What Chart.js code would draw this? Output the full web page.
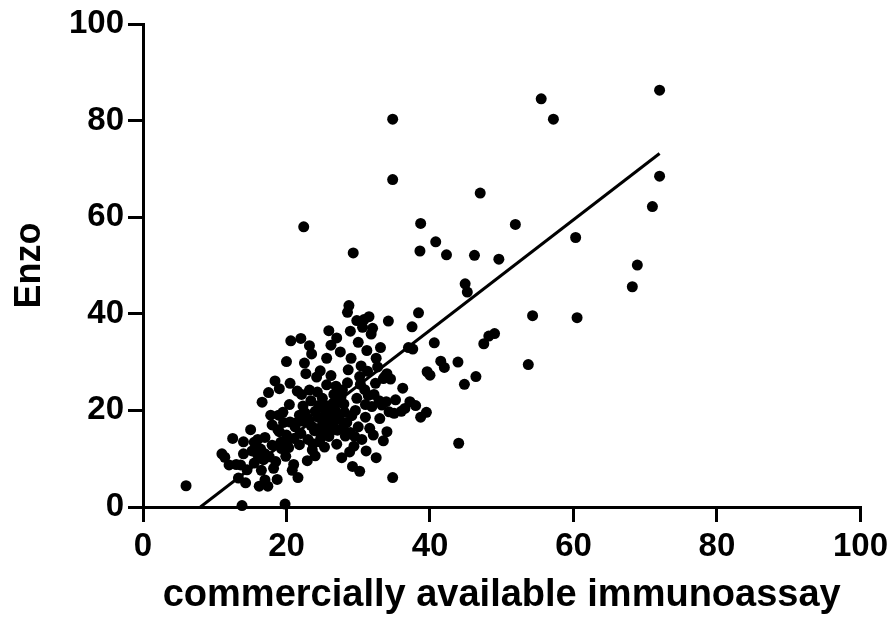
<!DOCTYPE html>
<html>
<head>
<meta charset="utf-8">
<script src="https://cdn.jsdelivr.net/npm/chart.js@4.4.1/dist/chart.umd.min.js"></script>
<style>
  html, body { margin: 0; padding: 0; background: #fff; }
  #wrap { width: 896px; height: 619px; }
</style>
</head>
<body>
<div id="wrap"><canvas id="myChart" width="896" height="619"></canvas></div>
<script>
// commercially available immunoassay (x) vs Enzo (y)
const commercialX = [
  55.5, 57.2, 72.0, 34.8, 34.8, 22.4, 29.3, 47.0, 38.7, 38.6, 40.8, 42.3, 46.2, 49.6, 51.9,
  71.0, 72.0, 60.3, 68.9, 68.2, 60.5, 54.3, 53.7, 44.9, 45.2, 48.2, 49.0, 47.5, 46.4, 44.8,
  44.0, 43.9, 40.6, 39.6, 40.0, 41.5, 42.0, 38.4, 37.6, 37.5, 38.7, 39.5, 38.0, 37.2, 36.0,
  35.2, 36.2, 34.8, 34.0, 34.2, 33.5,
  6.0, 11.0, 11.4, 12.5, 13.0, 13.6, 14.0, 14.0, 13.8, 14.5, 15.5, 16.0, 16.5, 15.0, 15.5,
  16.8, 17.0, 17.4, 17.6, 17.0, 16.6, 17.5, 18.0, 18.5, 19.0, 19.2, 18.7, 19.8, 18.4, 18.9,
  19.5, 19.9, 20.0, 20.4, 20.5, 20.8, 21.0, 21.2, 21.3, 20.6, 21.6, 21.8, 22.0, 22.1, 22.3,
  22.0, 22.5, 23.0, 23.0, 23.2, 23.4, 23.6, 23.8, 24.0, 24.2, 24.5, 24.6, 24.8, 25.0, 25.0,
  25.2, 25.4, 25.6, 25.6, 25.8, 25.9, 26.0, 26.2, 26.4, 26.5, 26.7, 26.9, 27.0, 27.2, 27.4,
  27.5, 27.7, 27.9, 28.0, 28.2, 28.4, 28.5, 28.5, 28.7, 28.9, 29.0, 29.2, 29.4, 29.6, 29.8,
  29.8, 30.0, 30.2, 30.3, 30.4, 30.6, 30.8, 31.0, 31.0, 31.1, 31.3, 31.5, 31.8, 31.9, 32.1,
  32.2, 32.4, 32.5, 32.7, 33.0, 33.1, 33.3, 33.5, 33.7, 34.0, 34.3,
  16.0, 17.0, 18.0, 19.0, 20.0, 20.5, 21.5, 22.7, 24.0, 23.5, 26.2, 27.0, 30.0, 30.2, 31.2,
  32.0, 34.5, 35.0, 36.5, 37.0, 32.5,
  22.6, 23.9, 24.3, 25.3, 26.6, 27.3, 27.8, 28.9, 29.1, 30.5, 31.6, 32.9, 33.9, 24.7, 26.1,
  21.8, 19.6, 18.2, 17.8, 15.2, 14.3, 16.2, 12.0, 13.3, 20.3, 22.9, 28.6, 30.9, 25.9, 23.2,
  21.0, 22.2, 23.4, 24.4, 25.5, 26.3, 27.1, 28.1, 19.3, 20.2, 24.9, 26.8, 29.5, 31.4, 27.6,
  18.8, 16.4, 25.1, 23.7, 28.8
];
const enzoY = [
  84.5, 80.3, 86.3, 80.3, 67.8, 58.0, 52.6, 65.0, 58.7, 53.0, 54.9, 52.2, 52.1, 51.3, 58.5,
  62.2, 68.5, 55.8, 50.1, 45.6, 39.2, 39.6, 29.5, 46.2, 44.5, 35.4, 35.9, 33.8, 27.0, 25.4,
  13.2, 30.0, 34.0, 28.0, 27.3, 30.2, 28.9, 40.2, 32.7, 37.3, 18.6, 19.6, 21.0, 21.8, 19.8,
  22.2, 24.6, 6.1, 27.6, 38.5, 26.6,
  4.4, 11.0, 10.3, 14.2, 8.8, 8.7, 13.5, 11.0, 0.3, 7.7, 9.1, 10.8, 7.6, 16.0, 13.4,
  9.8, 5.6, 4.3, 10.4, 14.4, 21.7, 23.7, 12.8, 9.4, 15.6, 13.4, 5.7, 0.6, 26.1, 19.0,
  19.6, 10.5, 14.9, 21.2, 25.6, 7.6, 8.8, 16.6, 17.4, 34.4, 6.1, 12.9, 15.2, 23.3, 20.9,
  34.9, 29.8, 14.0, 18.3, 24.2, 22.0, 11.8, 16.4, 19.8, 26.9, 21.0, 13.5, 14.4, 17.0, 22.5,
  18.1, 19.9, 25.3, 30.8, 17.3, 14.6, 20.9, 33.5, 18.9, 21.5, 16.4, 25.0, 13.0, 19.1, 21.7,
  32.1, 10.2, 16.5, 21.3, 14.7, 17.5, 25.7, 40.3, 41.7, 36.4, 30.8, 8.4, 12.6, 20.0, 22.5,
  38.6, 16.6, 7.4, 25.4, 29.2, 37.2, 38.8, 18.6, 21.2, 11.6, 28.1, 39.4, 35.8, 20.8, 14.9,
  23.3, 25.6, 10.2, 29.0, 18.3, 33.0, 21.1, 13.7, 27.0, 15.6, 19.7,
  14.0, 11.0, 17.0, 24.5, 30.1, 17.6, 24.0, 27.6, 10.6, 31.7, 27.2, 35.0, 34.1, 27.0, 32.4,
  37.0, 26.5, 19.4, 20.4, 33.0, 30.8,
  19.5, 15.8, 23.8, 12.4, 23.3, 18.2, 24.2, 15.4, 18.9, 14.0, 16.3, 22.0, 21.8, 28.2, 15.6,
  19.0, 17.5, 8.0, 19.0, 11.6, 5.0, 4.3, 8.7, 6.0, 12.3, 9.6, 28.4, 24.3, 36.5, 33.4,
  14.2, 17.8, 16.9, 18.6, 20.2, 17.9, 15.9, 19.6, 12.1, 13.9, 16.1, 20.0, 14.6, 23.1, 22.8,
  16.0, 12.0, 21.4, 13.1, 11.4
];
// regression line end points
const fitX = [8, 72];
const fitY = [0, 73.2];
// axis ticks
const tickValues = [0, 20, 40, 60, 80, 100];

const points = commercialX.map((x, i) => ({x: x, y: enzoY[i]}));
const fitLine = fitX.map((x, i) => ({x: x, y: fitY[i]}));

const fontFamily = 'Liberation Sans, Arial, sans-serif';
const tickFont = {family: fontFamily, size: 33, weight: 'bold', lineHeight: 1};

const ctx = document.getElementById('myChart').getContext('2d');
const myChart = new Chart(ctx, {
  type: 'scatter',
  data: {
    datasets: [{
      data: points,
      backgroundColor: '#000',
      borderColor: '#000',
      pointRadius: 5.5,
      pointBorderWidth: 0,
      clip: false,
      order: 1
    }, {
      type: 'line',
      data: fitLine,
      borderColor: '#000',
      borderWidth: 3,
      pointRadius: 0,
      fill: false,
      order: 0
    }]
  },
  options: {
    responsive: false,
    animation: false,
    layout: {padding: {left: 0, top: 24, right: 33, bottom: 0}},
    plugins: {legend: {display: false}, tooltip: {enabled: false}},
    scales: {
      x: {
        type: 'linear', min: 0, max: 100,
        afterFit: (s) => { s.height = 112; },
        afterBuildTicks: (s) => { s.ticks = tickValues.map(v => ({value: v})); },
        border: {color: '#000', width: 3},
        grid: {drawOnChartArea: false, color: '#000', lineWidth: 3, tickLength: 15, tickWidth: 3},
        ticks: {color: '#000', font: tickFont, padding: 8, maxRotation: 0},
        title: {
          display: true, text: 'commercially available immunoassay', color: '#000',
          font: {family: fontFamily, size: 38, weight: 'bold', lineHeight: 1},
          padding: {top: 0, bottom: 4}
        }
      },
      y: {
        type: 'linear', min: 0, max: 100,
        afterFit: (s) => { s.width = 143; },
        afterBuildTicks: (s) => { s.ticks = tickValues.map(v => ({value: v})); },
        border: {color: '#000', width: 3},
        grid: {drawOnChartArea: false, color: '#000', lineWidth: 3, tickLength: 15, tickWidth: 3},
        ticks: {color: '#000', font: tickFont, padding: 4},
        title: {
          display: true, text: 'Enzo', color: '#000',
          font: {family: fontFamily, size: 36, weight: 'bold', lineHeight: 1},
          padding: {top: 12, bottom: 0}
        }
      }
    }
  }
});
</script>
</body>
</html>
